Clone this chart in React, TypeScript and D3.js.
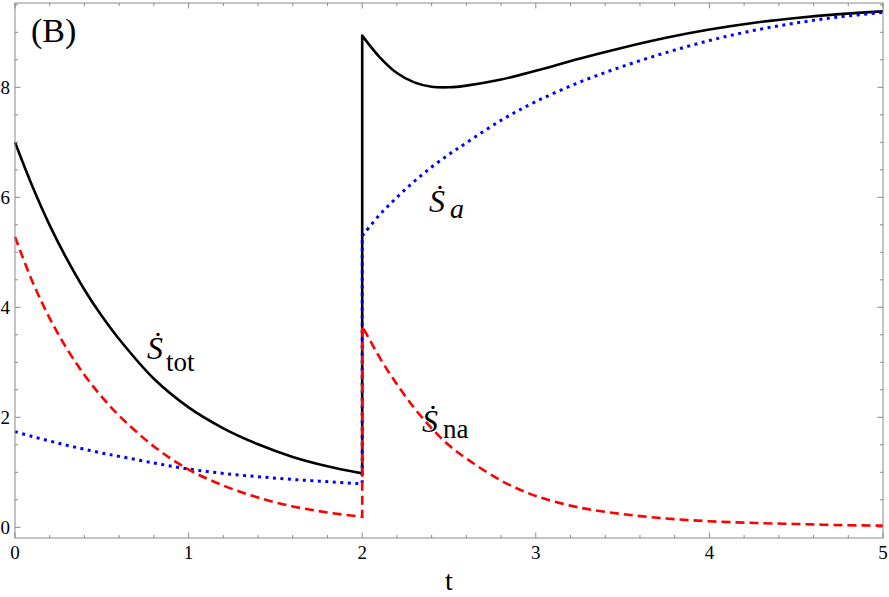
import React from "react";
import * as d3 from "d3";

// ---- data ----
const tPre = [0, 0.1, 0.2, 0.3, 0.4, 0.5, 0.6, 0.8, 1.0, 1.2, 1.4, 1.6, 1.8, 2.0];
const totPre = [7.0, 6.2, 5.49, 4.87, 4.32, 3.84, 3.42, 2.7, 2.18, 1.8, 1.51, 1.28, 1.11, 0.98];
const aPre = [1.74, 1.65, 1.57, 1.49, 1.42, 1.35, 1.29, 1.17, 1.06, 0.98, 0.92, 0.87, 0.83, 0.79];
const naPre = [5.28, 4.47, 3.8, 3.24, 2.77, 2.37, 2.03, 1.47, 1.05, 0.76, 0.54, 0.38, 0.27, 0.19];

const tPost = [2.0, 2.1, 2.2, 2.3, 2.4, 2.5, 2.6, 2.8, 3.0, 3.25, 3.5, 3.75, 4.0, 4.25, 4.5, 4.75, 5.0];
const totPost = [8.94, 8.55, 8.26, 8.09, 8.01, 8.0, 8.03, 8.14, 8.3, 8.52, 8.72, 8.9, 9.05, 9.17, 9.26, 9.33, 9.38];
const aPost = [5.3, 5.68, 6.0, 6.29, 6.55, 6.78, 6.99, 7.4, 7.74, 8.09, 8.38, 8.63, 8.85, 9.03, 9.17, 9.28, 9.36];
const naPost = [3.66, 3.09, 2.6, 2.17, 1.8, 1.49, 1.25, 0.85, 0.57, 0.36, 0.24, 0.16, 0.11, 0.08, 0.06, 0.04, 0.03];

const xTicks = [0, 1, 2, 3, 4, 5];
const yTicks = [0, 2, 4, 6, 8];
const xLabel = "t";
const panelLabel = "(B)";

const W = 889;
const H = 597;
const frame = { left: 15, right: 883, top: 3, bottom: 538 };
const SERIF = "Liberation Serif, DejaVu Serif, serif";

export default function App() {
  const x = d3.scaleLinear().domain([0, 5]).range([frame.left, frame.right]);
  const y = d3.scaleLinear().domain([0, 8]).range([527.3, 527.3 - 8 * 55]);

  const line = d3
    .line<[number, number]>()
    .x((d) => x(d[0]))
    .y((d) => y(d[1]))
    .curve(d3.curveCatmullRom.alpha(0.5));

  const makePath = (pre: number[], post: number[]) => {
    const a = line(tPre.map((t, i) => [t, pre[i]] as [number, number])) || "";
    const b = line(tPost.map((t, i) => [t, post[i]] as [number, number])) || "";
    return a + "L" + b.slice(1);
  };

  const yMin = y.invert(frame.bottom);
  const yMax = y.invert(frame.top);
  const xMinor = d3.range(0, 5.0001, 0.2).filter((v) => !xTicks.some((m) => Math.abs(m - v) < 1e-6));
  const yMinor = d3
    .range(Math.ceil(yMin * 2) / 2, yMax, 0.5)
    .filter((v) => v >= yMin && v <= yMax && !yTicks.some((m) => Math.abs(m - v) < 1e-6));

  const frameColor = "#8a8a8a";
  const MAJ = 5.5;
  const MIN = 3;
  const txt = { fontFamily: SERIF } as React.CSSProperties;

  return (
    <svg
      width={W}
      height={H}
      style={{ position: "absolute", left: 0, top: 0, background: "#fff", fontFamily: SERIF }}
    >
      {/* curves */}
      <path d={makePath(totPre, totPost)} fill="none" stroke="#000" strokeWidth={2.6} strokeLinejoin="round" />
      <path d={makePath(aPre, aPost)} fill="none" stroke="#0000ff" strokeWidth={3} strokeDasharray="3 4.5" />
      <path d={makePath(naPre, naPost)} fill="none" stroke="#ff0000" strokeWidth={2.6} strokeDasharray="9 5" />

      {/* frame */}
      <rect
        x={frame.left}
        y={frame.top}
        width={frame.right - frame.left}
        height={frame.bottom - frame.top}
        fill="none"
        stroke={frameColor}
        strokeWidth={1}
      />
      {xTicks.map((v) => (
        <g key={"xm" + v}>
          <line x1={x(v)} x2={x(v)} y1={frame.bottom} y2={frame.bottom - MAJ} stroke={frameColor} />
          <line x1={x(v)} x2={x(v)} y1={frame.top} y2={frame.top + MAJ} stroke={frameColor} />
          <text x={x(v)} y={559} fontSize={19} textAnchor="middle" fill="#000" style={txt}>
            {v}
          </text>
        </g>
      ))}
      {xMinor.map((v) => (
        <g key={"xn" + v}>
          <line x1={x(v)} x2={x(v)} y1={frame.bottom} y2={frame.bottom - MIN} stroke={frameColor} />
          <line x1={x(v)} x2={x(v)} y1={frame.top} y2={frame.top + MIN} stroke={frameColor} />
        </g>
      ))}
      {yTicks.map((v) => (
        <g key={"ym" + v}>
          <line x1={frame.left} x2={frame.left + MAJ} y1={y(v)} y2={y(v)} stroke={frameColor} />
          <line x1={frame.right} x2={frame.right - MAJ} y1={y(v)} y2={y(v)} stroke={frameColor} />
          <text x={10} y={y(v) + 6.5} fontSize={19} textAnchor="end" fill="#000" style={txt}>
            {v}
          </text>
        </g>
      ))}
      {yMinor.map((v) => (
        <g key={"yn" + v}>
          <line x1={frame.left} x2={frame.left + MIN} y1={y(v)} y2={y(v)} stroke={frameColor} />
          <line x1={frame.right} x2={frame.right - MIN} y1={y(v)} y2={y(v)} stroke={frameColor} />
        </g>
      ))}

      <text x={x(2.5)} y={590} fontSize={28} textAnchor="middle" fill="#000" style={txt}>
        {xLabel}
      </text>

      <text x={31} y={42} fontSize={34} fill="#000" style={txt}>
        {panelLabel}
      </text>

      {/* curve labels */}
      <text x={147} y={359} fontSize={32} fill="#000" style={{ ...txt, fontStyle: "italic" }}>
        Ṡ
      </text>
      <text x={166} y={371} fontSize={27} fill="#000" style={txt}>
        tot
      </text>

      <text x={429} y={212} fontSize={32} fill="#000" style={{ ...txt, fontStyle: "italic" }}>
        Ṡ
      </text>
      <text x={450} y={218} fontSize={28} fill="#000" style={{ ...txt, fontStyle: "italic" }}>
        a
      </text>

      <text x={422} y={432} fontSize={32} fill="#000" style={{ ...txt, fontStyle: "italic" }}>
        Ṡ
      </text>
      <text x={443} y={438} fontSize={27} fill="#000" style={txt}>
        na
      </text>
    </svg>
  );
}
